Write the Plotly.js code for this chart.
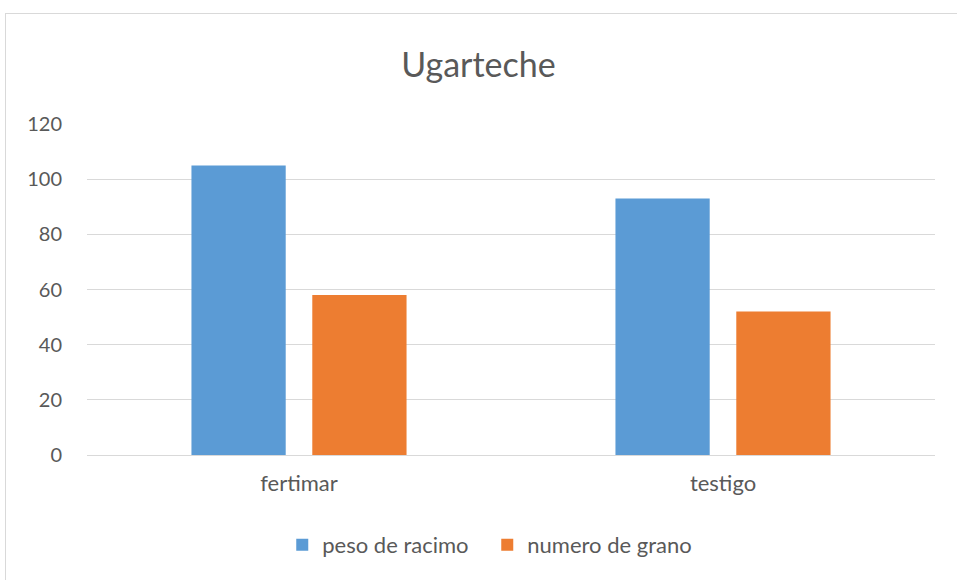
<!DOCTYPE html>
<html>
<head>
<meta charset="utf-8">
<script src="https://cdn.plot.ly/plotly-3.0.1.min.js"></script>
<style>
html,body{margin:0;padding:0;background:#fff;overflow:hidden;}
#frame{position:absolute;left:5px;top:13px;width:1200px;height:900px;border:1px solid #d9d9d9;pointer-events:none;}
#chart{position:absolute;left:0;top:0;width:957px;height:580px;}
</style>
</head>
<body>
<div id="chart"></div>
<div id="frame"></div>
<script>
const categories = ["fertimar", "testigo"];
const pesoRacimo = [105, 93];
const numeroGrano = [58, 52];
const seriesNames = ["peso de racimo", "numero de grano"];
const titleText = "Ugarteche";

const font = "Lato, 'Open Sans', sans-serif";
const traces = [
  {type: "bar", x: categories, y: pesoRacimo, name: seriesNames[0], marker: {color: "#5b9bd5"}},
  {type: "bar", x: categories, y: numeroGrano, name: seriesNames[1], marker: {color: "#ed7d31"}}
];
const layout = {
  width: 957, height: 580,
  margin: {l: 87, r: 22, t: 124, b: 125},
  paper_bgcolor: "rgba(0,0,0,0)", plot_bgcolor: "#fff",
  font: {family: font, color: "#595959", size: 20},
  title: {text: titleText, font: {family: font, size: 34, color: "#595959"}, x: 0.5, xanchor: "center", y: 0.888, yanchor: "middle"},
  barmode: "group", bargap: 0.43, bargroupgap: 0.22,
  xaxis: {showgrid: false, showline: true, linecolor: "#d9d9d9", linewidth: 1, ticks: "", tickfont: {size: 22}, ticklabelstandoff: 9},
  yaxis: {range: [0, 120], dtick: 20, showgrid: true, gridcolor: "#d9d9d9", gridwidth: 1, zeroline: true, zerolinecolor: "#d9d9d9", showline: false, ticks: "", tickfont: {size: 20}, ticklabelstandoff: 24},
  legend: {orientation: "h", x: 0.472, xanchor: "center", y: -0.272, yanchor: "middle", font: {size: 22}, itemwidth: 30, entrywidth: 160, traceorder: "normal"},
  showlegend: true
};
Plotly.newPlot("chart", traces, layout, {displayModeBar: false, staticPlot: true});
</script>
</body>
</html>
